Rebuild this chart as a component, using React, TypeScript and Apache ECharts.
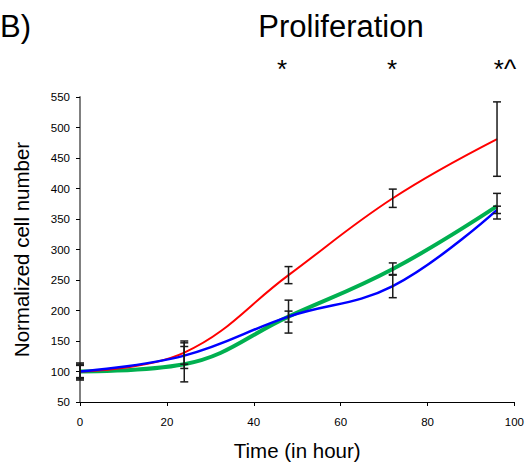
import React, { useEffect, useRef } from "react";
import * as echarts from "echarts";

const times = [0, 24, 48, 72, 96];
const redValues = [100, 131, 258, 384, 481];
const redErr = [12, 19, 14, 15, 61];
const blueValues = [100, 126, 190, 240, 365];
const blueErr = [10, 21, 9, 19, 6];
const greenValues = [100, 112, 190, 268, 371];
const greenErr = [14, 29, 27, 10, 21];
const starLabels = ["*", "*", "*^"];

const FONT = "Liberation Sans, Arial, sans-serif";

function errSeries(name: string, vals: number[], errs: number[]) {
  return {
    type: "custom",
    name,
    data: times.map((t, i) => [t, vals[i], errs[i]]),
    encode: { x: 0, y: 1 },
    z: 10,
    silent: true,
    renderItem: (params: any, api: any) => {
      const x = api.value(0);
      const y = api.value(1);
      const e = api.value(2);
      const top = api.coord([x, y + e]);
      const bot = api.coord([x, y - e]);
      const w = 4;
      const style = { stroke: "#1a1a1a", lineWidth: 1.5 };
      return {
        type: "group",
        children: [
          { type: "line", shape: { x1: top[0], y1: top[1], x2: bot[0], y2: bot[1] }, style },
          { type: "line", shape: { x1: top[0] - w, y1: top[1], x2: top[0] + w, y2: top[1] }, style },
          { type: "line", shape: { x1: bot[0] - w, y1: bot[1], x2: bot[0] + w, y2: bot[1] }, style },
        ],
      };
    },
  };
}

function lineSeries(name: string, vals: number[], color: string, width: number) {
  return {
    type: "line",
    name,
    data: times.map((t, i) => [t, vals[i]]),
    smooth: 0.4,
    showSymbol: false,
    symbol: "none",
    lineStyle: { color, width },
    z: 5,
  };
}

export default function App() {
  const ref = useRef<HTMLDivElement>(null);
  useEffect(() => {
    if (!ref.current) return;
    const chart = echarts.init(ref.current, null, { renderer: "svg" });
    const starX = [282, 392, 505];
    chart.setOption({
      animation: false,
      backgroundColor: "#ffffff",
      grid: { left: 80, right: 11, top: 97, bottom: 58 },
      xAxis: {
        type: "value",
        min: 0,
        max: 100,
        interval: 20,
        name: "Time (in hour)",
        nameLocation: "middle",
        nameGap: 38,
        nameTextStyle: { fontFamily: FONT, fontSize: 20.5, color: "#000" },
        axisLine: { show: true, lineStyle: { color: "#000", width: 1 } },
        axisTick: { show: true, length: 4, lineStyle: { color: "#000" } },
        axisLabel: { fontFamily: FONT, fontSize: 11.5, color: "#000", margin: 14 },
        splitLine: { show: false },
      },
      yAxis: {
        type: "value",
        min: 50,
        max: 550,
        interval: 50,
        name: "Normalized cell number",
        nameLocation: "middle",
        nameGap: 48,
        nameTextStyle: { fontFamily: FONT, fontSize: 20.5, color: "#000" },
        axisLine: { show: true, lineStyle: { color: "#808080", width: 2 } },
        axisTick: { show: true, length: 4, lineStyle: { color: "#000" } },
        axisLabel: { fontFamily: FONT, fontSize: 11.5, color: "#000", margin: 10 },
        splitLine: { show: false },
      },
      graphic: [
        {
          type: "text",
          x: 0,
          y: 11,
          style: { text: "B)", fontFamily: FONT, fontSize: 31, fill: "#000" },
        },
        {
          type: "text",
          x: 341,
          y: 11,
          style: { text: "Proliferation", fontFamily: FONT, fontSize: 31, fill: "#000", align: "center" },
        },
        ...starLabels.map((s, i) => ({
          type: "text",
          x: starX[i],
          y: 56,
          style: { text: s, fontFamily: FONT, fontSize: 26, fill: "#000", align: "center" },
        })),
      ],
      series: [
        lineSeries("green", greenValues, "#00B050", 4),
        lineSeries("red", redValues, "#FF0000", 2),
        lineSeries("blue", blueValues, "#0000FF", 2.5),
        errSeries("greenErr", greenValues, greenErr),
        errSeries("redErr", redValues, redErr),
        errSeries("blueErr", blueValues, blueErr),
      ],
    });
    return () => chart.dispose();
  }, []);
  return <div ref={ref} style={{ position: "fixed", left: 0, top: 0, width: 527, height: 466 }} />;
}
